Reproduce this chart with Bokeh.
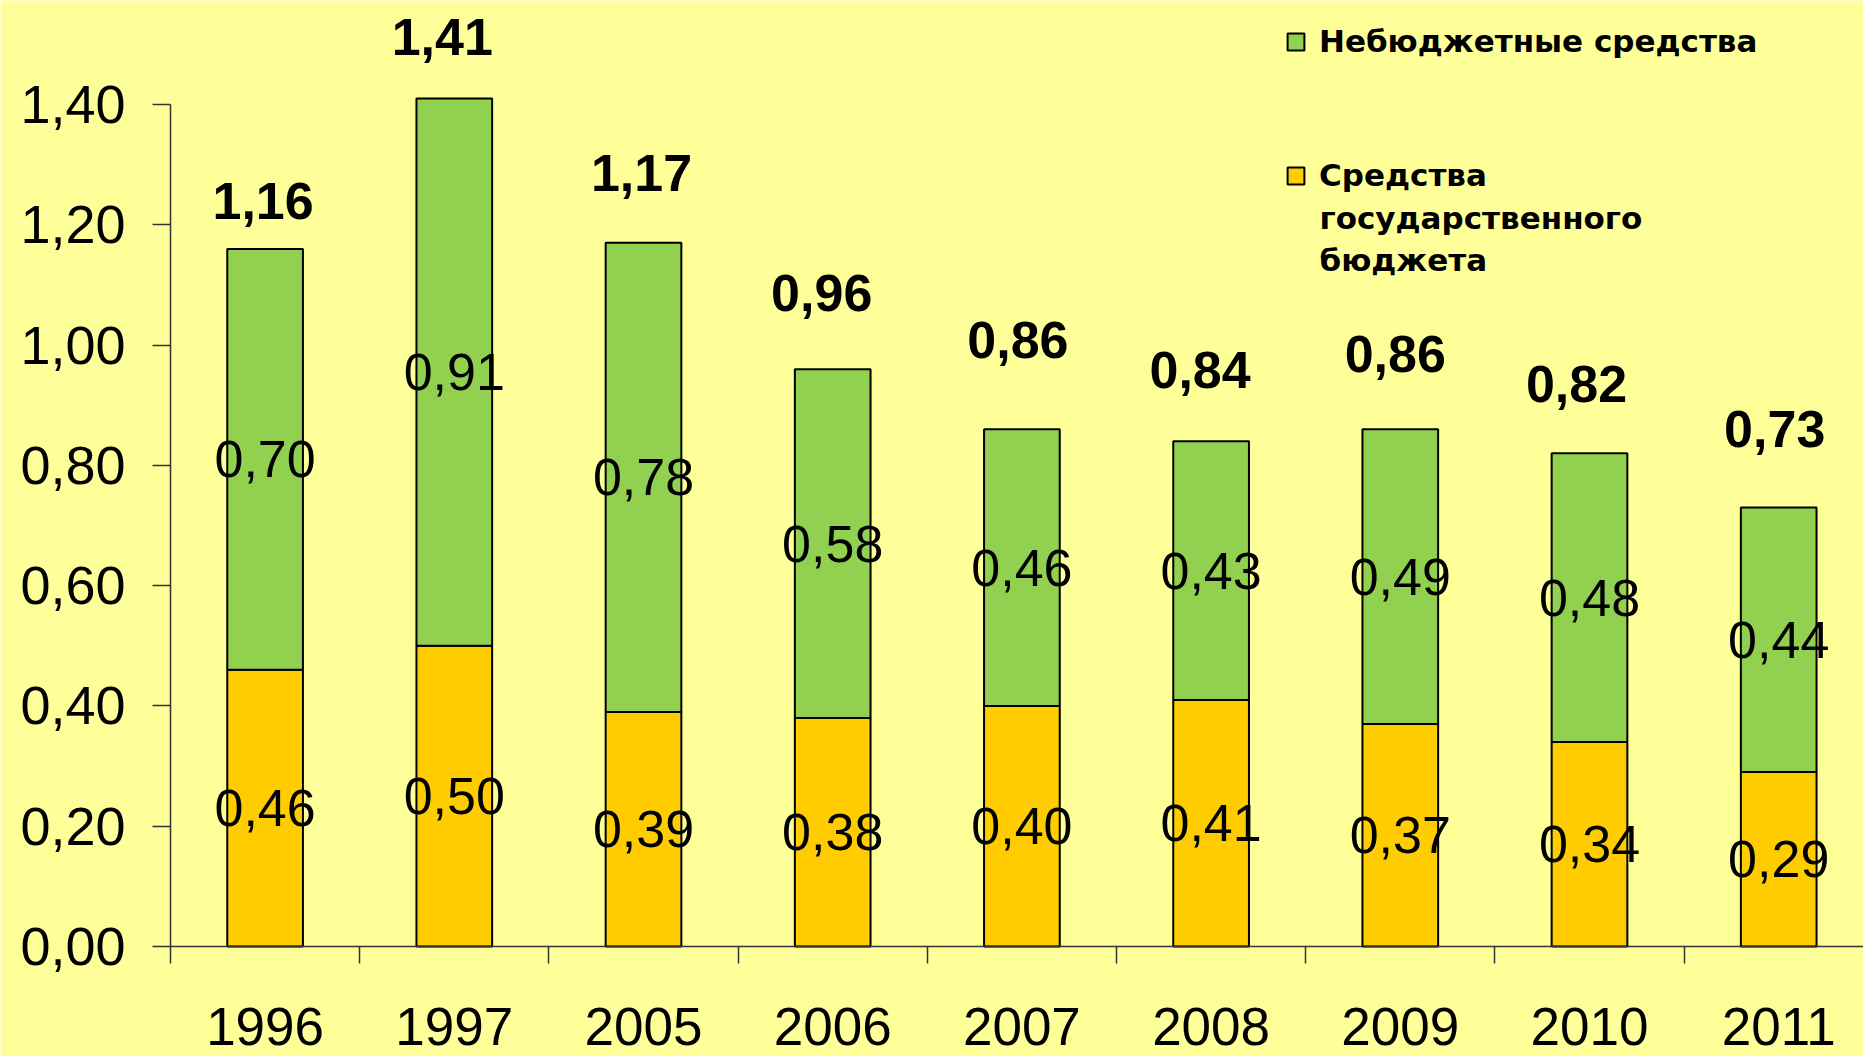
from bokeh.plotting import figure
from bokeh.models import (ColumnDataSource, Range1d, FixedTicker, CustomJSTickFormatter,
                          LabelSet, Label, Legend, LegendItem)
from bokeh.core.properties import value
from bokeh.embed import file_html
from bokeh.resources import INLINE

# ---------------- data ----------------
years = ["1996", "1997", "2005", "2006", "2007", "2008", "2009", "2010", "2011"]
budget = [0.46, 0.50, 0.39, 0.38, 0.40, 0.41, 0.37, 0.34, 0.29]
extra = [0.70, 0.91, 0.78, 0.58, 0.46, 0.43, 0.49, 0.48, 0.44]
totals = [1.16, 1.41, 1.17, 0.96, 0.86, 0.84, 0.86, 0.82, 0.73]
y_ticks = [0.0, 0.2, 0.4, 0.6, 0.8, 1.0, 1.2, 1.4]
legend_extra = "Небюджетные средства"
legend_budget = ["Средства", "государственного", "бюджета"]

# ---------------- layout / style ----------------
W, H = 1863, 1056
BG = "#FFFF99"
GREEN = "#92D050"
YELLOW = "#FFCC00"
FONT = "Liberation Sans"
LEG_FONT = "DejaVu Sans"
AXIS_X_PX, AXIS_Y_PX = 170, 946      # where the axes cross on the page
PX_PER_CAT, PX_PER_UNIT = 189.2, 601.4
total_label_dy = [48, 62, 70, 76, 89, 71, 75, 69, 78]     # px above bar top
total_label_dx = [-2, -12, -2, -11, -4, -11, -5, -13, -4]  # px shift of total labels

x0 = -0.5
x_start = x0 - AXIS_X_PX / PX_PER_CAT
x_end = x0 + (W - AXIS_X_PX) / PX_PER_CAT
y_end = AXIS_Y_PX / PX_PER_UNIT
y_start = -(H - AXIS_Y_PX) / PX_PER_UNIT

def fmt(v):
    return f"{v:.2f}".replace(".", ",")

xs = list(range(len(years)))
src = ColumnDataSource(dict(
    x=xs,
    budget=budget,
    extra=extra,
    total=totals,
    dy=total_label_dy,
    dx=total_label_dx,
    year=years,
    budget_y=[b / 2 for b in budget],
    extra_y=[b + e / 2 for b, e in zip(budget, extra)],
    budget_txt=[fmt(v) for v in budget],
    extra_txt=[fmt(v) for v in extra],
    total_txt=[fmt(v) for v in totals],
))

p = figure(width=W, height=H, output_backend="svg", toolbar_location=None,
           x_range=Range1d(x_start, x_end), y_range=Range1d(y_start, y_end),
           min_border=0, min_border_left=0, min_border_right=0,
           min_border_top=0, min_border_bottom=0)
p.background_fill_color = BG
p.border_fill_color = BG
p.outline_line_color = None
p.grid.visible = False

renderers = p.vbar_stack(["budget", "extra"], x="x", width=0.4, source=src,
                         fill_color=[YELLOW, GREEN], line_color="black", line_width=2)
r_budget, r_extra = renderers

# axes, placed at the crossing point inside the frame
p.yaxis.fixed_location = x0
p.yaxis.ticker = FixedTicker(ticks=y_ticks, minor_ticks=[])
p.yaxis.formatter = CustomJSTickFormatter(code="return tick.toFixed(2).replace('.', ',');")
p.yaxis.bounds = (0, 1.4)
p.yaxis.major_tick_out = 18
p.yaxis.major_tick_in = 0
p.yaxis.axis_line_color = "#333333"
p.yaxis.major_tick_line_color = "#333333"
p.yaxis.axis_line_width = 1.5
p.yaxis.major_tick_line_width = 1.5
p.yaxis.major_label_text_font = FONT
p.yaxis.major_label_text_font_size = "54px"
p.yaxis.major_label_text_color = "black"
p.yaxis.major_label_standoff = 27

p.xaxis.fixed_location = 0
p.xaxis.ticker = FixedTicker(ticks=xs, minor_ticks=[i - 0.5 for i in range(len(years) + 1)])
p.xaxis.formatter = CustomJSTickFormatter(code="return '';")
p.xaxis.bounds = (x0, x_end)
p.xaxis.major_tick_out = 0
p.xaxis.major_tick_in = 0
p.xaxis.minor_tick_out = 17
p.xaxis.minor_tick_in = 0
p.xaxis.axis_line_color = "#333333"
p.xaxis.minor_tick_line_color = "#333333"
p.xaxis.axis_line_width = 1.5
p.xaxis.minor_tick_line_width = 1.5
p.xaxis.major_label_text_font_size = "1px"
p.xaxis.major_label_standoff = 0

# value labels
common = dict(source=src, text_font=value(FONT), text_align="center",
              text_baseline="middle", text_color="black")
p.add_layout(LabelSet(x="x", y="budget_y", text="budget_txt", text_font_size="52px", **common))
p.add_layout(LabelSet(x="x", y="extra_y", text="extra_txt", text_font_size="52px", **common))
p.add_layout(LabelSet(x="x", y="total", text="total_txt", x_offset="dx", y_offset="dy",
                      text_font_size="52px", text_font_style="bold", **common))
p.add_layout(LabelSet(x="x", y=0, text="year", y_offset=-80,
                      text_font_size="53px", **common))

# legend
legend = Legend(items=[LegendItem(label=legend_extra, renderers=[r_extra]),
                       LegendItem(label=legend_budget[0], renderers=[r_budget])],
                location=(1285, H - 193), padding=0, margin=0, spacing=98,
                glyph_width=21, glyph_height=21, label_standoff=13,
                label_text_font=LEG_FONT, label_text_font_size="31px",
                label_text_font_style="bold", label_text_color="black",
                background_fill_alpha=0, border_line_color=None)
p.add_layout(legend, "center")
for i, line in enumerate(legend_budget[1:]):
    p.add_layout(Label(x=1319, y=H - 217 - 42 * i, x_units="screen", y_units="screen",
                       text=line, text_font=LEG_FONT, text_font_size="31px",
                       text_font_style="bold", text_color="black",
                       text_baseline="alphabetic"))

open("out.html", "w").write(file_html(p, INLINE))
